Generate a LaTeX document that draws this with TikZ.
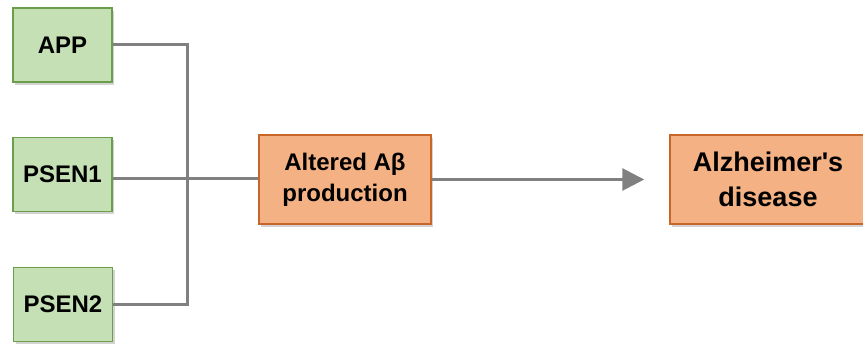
\documentclass[tikz,border=0pt]{standalone}
\usepackage{fontspec}
\setmainfont{Liberation Sans}[Ligatures=TeXOff]
\usetikzlibrary{arrows.meta,shadows}
\definecolor{genefill}{HTML}{C5E0B4}
\definecolor{genedraw}{HTML}{6A9E48}
\definecolor{stepfill}{HTML}{F4B183}
\definecolor{stepdraw}{HTML}{C8662A}
\definecolor{linkgray}{HTML}{808080}
\tikzset{
  gene/.style={draw=genedraw,fill=genefill,line width=1.5pt,minimum width=99pt,minimum height=74pt,
    font=\fontsize{24}{28}\selectfont\bfseries,drop shadow={opacity=0.35,shadow xshift=2pt,shadow yshift=-3pt}},
  effect/.style={draw=stepdraw,fill=stepfill,line width=1.5pt,minimum height=89pt,align=center,
    drop shadow={opacity=0.35,shadow xshift=2pt,shadow yshift=-3pt}},
  link/.style={draw=linkgray,line width=3pt}
}
\begin{document}
\begin{tikzpicture}[x=1pt,y=-1pt]
  \useasboundingbox (0,0) rectangle (863,347);

  \node[gene] (app) at (62.5,45) {APP};
  \node[gene] (psen1) at (62.5,174.5) {PSEN1};
  \node[gene] (psen2) at (63,304.5) {PSEN2};
  \node[effect,minimum width=172pt,font=\fontsize{24}{31}\selectfont\bfseries] (alt) at (345,179.5) {Altered A\symbol{"03B2}\\production};
  \node[effect,minimum width=196pt,font=\fontsize{27}{35}\selectfont\bfseries] (alz) at (768,179.5) {Alzheimer's\\disease};

  \coordinate (j) at (187,179);
  \draw[link] (app.east) -| (j);
  \draw[link] (psen2.east) -| (j);
  \draw[link] (psen1.east |- j) -- (alt.west |- j);
  \draw[link,-{Triangle[length=22pt,width=22pt]},shorten >=25pt] (alt.east) -- (alz.west);
\end{tikzpicture}
\end{document}
